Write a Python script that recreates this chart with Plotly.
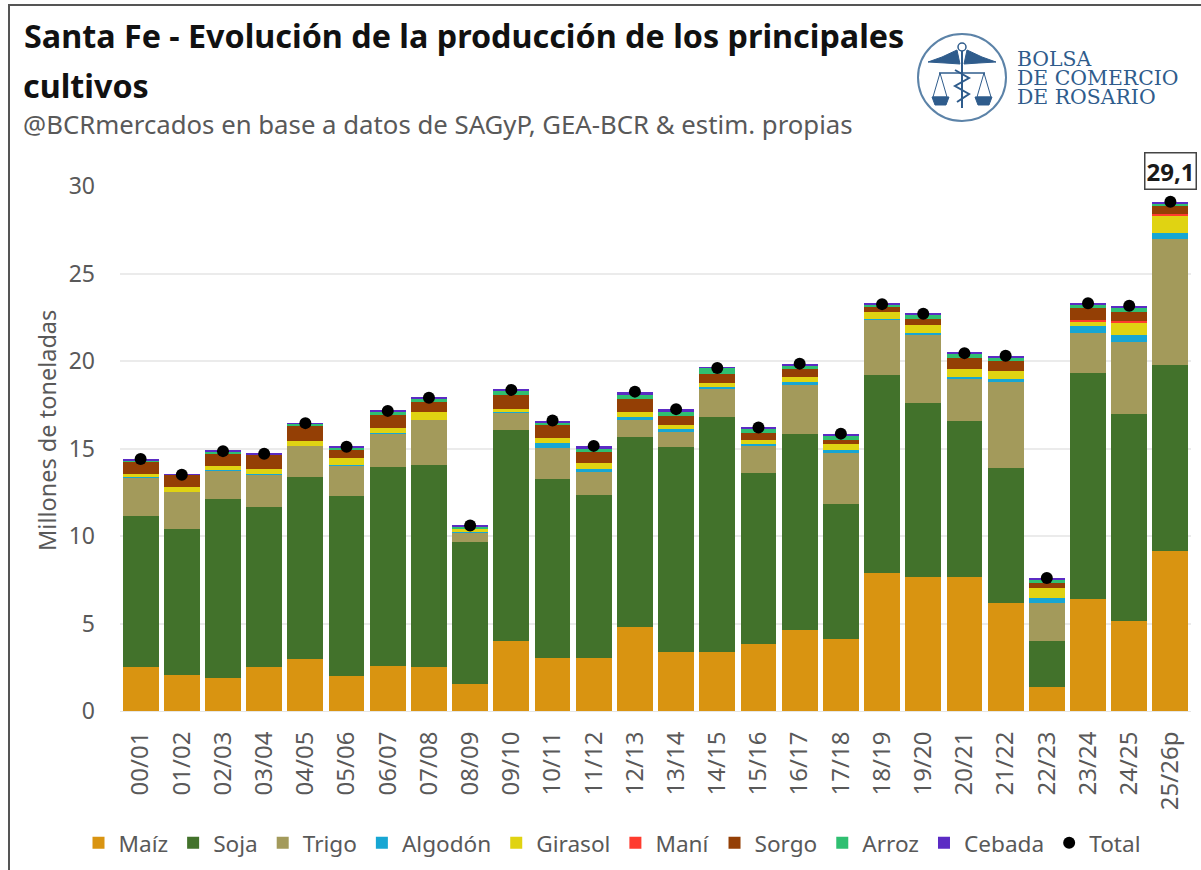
import plotly.graph_objects as go

campanas = ["00/01","01/02","02/03","03/04","04/05","05/06","06/07","07/08","08/09","09/10","10/11","11/12","12/13","13/14","14/15","15/16","16/17","17/18","18/19","19/20","20/21","21/22","22/23","23/24","24/25","25/26p"]
maiz = [2.5,2.05,1.9,2.5,3.0,2.0,2.6,2.5,1.55,4.0,3.05,3.05,4.8,3.4,3.35,3.85,4.65,4.1,7.9,7.65,7.65,6.2,1.35,6.4,5.15,9.15]
soja = [8.65,8.35,10.2,9.15,10.4,10.3,11.35,11.55,8.1,12.05,10.2,9.3,10.85,11.7,13.45,9.75,11.2,7.75,11.3,9.95,8.95,7.7,2.65,12.9,11.8,10.6]
trigo = [2.2,2.13,1.67,1.84,1.76,1.74,1.88,2.58,0.54,0.96,1.8,1.33,0.98,0.86,1.58,1.56,2.78,2.87,3.18,3.89,2.35,4.92,2.15,2.28,4.12,7.2]
algodon = [0.02,0.0,0.01,0.05,0.01,0.02,0.07,0.02,0.03,0.13,0.25,0.13,0.15,0.14,0.12,0.11,0.18,0.18,0.02,0.13,0.12,0.13,0.29,0.42,0.4,0.34]
girasol = [0.2,0.25,0.22,0.27,0.26,0.38,0.3,0.45,0.18,0.1,0.28,0.34,0.32,0.24,0.24,0.23,0.29,0.38,0.42,0.44,0.45,0.48,0.61,0.25,0.72,1.05]
mani = [0,0,0,0,0,0,0,0,0,0,0,0,0,0,0,0,0,0,0,0,0,0,0,0.08,0.09,0.08]
sorgo = [0.68,0.71,0.72,0.82,0.91,0.51,0.7,0.58,0.05,0.82,0.76,0.67,0.71,0.52,0.53,0.36,0.42,0.22,0.25,0.34,0.63,0.57,0.28,0.68,0.54,0.48]
arroz = [0.08,0.01,0.1,0.04,0.06,0.1,0.2,0.17,0.1,0.24,0.13,0.18,0.24,0.24,0.33,0.27,0.21,0.2,0.15,0.23,0.29,0.21,0.17,0.19,0.23,0.1]
cebada = [0.07,0.02,0.08,0.03,0.05,0.05,0.05,0.05,0.1,0.1,0.08,0.15,0.2,0.14,0.05,0.07,0.12,0.15,0.08,0.09,0.09,0.09,0.1,0.1,0.11,0.1]
total = [14.4,13.5,14.85,14.7,16.45,15.1,17.15,17.9,10.6,18.35,16.6,15.15,18.25,17.25,19.6,16.2,19.85,15.85,23.25,22.7,20.45,20.3,7.6,23.3,23.16,29.1]

series = [("Maíz",maiz,"#D99411"),("Soja",soja,"#42722B"),("Trigo",trigo,"#A39A5B"),("Algodón",algodon,"#17A6D3"),
          ("Girasol",girasol,"#E0D312"),("Maní",mani,"#FF3B2F"),("Sorgo",sorgo,"#943F05"),("Arroz",arroz,"#2FBF71"),("Cebada",cebada,"#5B2BC4")]

FONT = "Noto Sans"
TXT = "#595959"
L, R, T, B = 120, 1191, 186, 711
def px(x): return (x - L) / (R - L)
def py(y): return (B - y) / (B - T)

fig = go.Figure()
for name, vals, col in series:
    fig.add_bar(name=name, x=campanas, y=vals, marker=dict(color=col, line=dict(width=0)))
fig.add_scatter(name="Total", x=campanas, y=total, mode="markers", cliponaxis=False,
                marker=dict(color="black", size=12))

LOGO = "#2F5C8C"
shapes = [
    dict(type="line", xref="paper", yref="paper", x0=px(9), x1=px(9), y0=py(5), y1=py(870), line=dict(color="#555555", width=2)),
    dict(type="line", xref="paper", yref="paper", x0=px(8), x1=px(1201), y0=py(5), y1=py(5), line=dict(color="#555555", width=2)),
    dict(type="circle", xref="paper", yref="paper", x0=px(918), x1=px(1006), y0=py(121), y1=py(34), line=dict(color="#5C83A8", width=2)),
    dict(type="circle", xref="paper", yref="paper", x0=px(958), x1=px(966), y0=py(51), y1=py(43), line=dict(color=LOGO, width=1.5)),
]
def path(d_pts, fill=True, width=1):
    d = "M" + " L".join(f"{px(a):.5f},{py(b):.5f}" for a, b in d_pts) + (" Z" if fill else "")
    return dict(type="path", xref="paper", yref="paper", path=d,
                fillcolor=LOGO if fill else None, line=dict(color=LOGO, width=width))
# wings, staff and scales of the emblem
shapes += [
    path([(928,62),(942,57),(957,50),(960,64),(945,63)]),
    path([(996,62),(982,57),(967,50),(964,64),(979,63)]),
    path([(962,51),(962,108)], fill=False, width=2),
    path([(939,73),(985,73)], fill=False, width=1.5),
    path([(940,73),(933,97),(947,97)], fill=False),
    path([(940,73),(947,97)], fill=False),
    path([(984,73),(977,97),(991,97)], fill=False),
    path([(984,73),(991,97)], fill=False),
    path([(932,97),(949,97),(946,105),(935,105)]),
    path([(975,97),(992,97),(989,105),(978,105)]),
    path([(955,70),(969,78),(955,86),(969,94),(957,102)], fill=False, width=2),
]

LOGO_FONT = dict(family="DejaVu Serif", size=20.4, color=LOGO)
ann = [
    dict(text="<b>cultivos</b>", x=px(21), y=py(85), xanchor="left", yanchor="middle", font=dict(family=FONT, size=32.3, color="#111111")),
    dict(text="@BCRmercados en base a datos de SAGyP, GEA-BCR & estim. propias", x=px(21), y=py(124), xanchor="left", yanchor="middle",
         font=dict(family=FONT, size=25.75, color="#595959")),
    dict(text="BOLSA", x=px(1015), y=py(59), xanchor="left", yanchor="middle", font=LOGO_FONT),
    dict(text="DE COMERCIO", x=px(1015), y=py(78), xanchor="left", yanchor="middle", font=LOGO_FONT),
    dict(text="DE ROSARIO", x=px(1015), y=py(97), xanchor="left", yanchor="middle", font=LOGO_FONT),
    dict(text="Millones de toneladas", x=px(47), y=py(431), xanchor="center", yanchor="middle", textangle=-90,
         font=dict(family=FONT, size=23.5, color=TXT)),
    dict(text="<b>29,1</b>", x=campanas[-1], y=total[-1], xref="x", yref="y", xanchor="center", yanchor="bottom", yshift=12, showarrow=False,
         font=dict(family=FONT, size=24, color="#1a1a1a"), bordercolor="#444444", borderwidth=1.5, borderpad=1, bgcolor="white"),
]
for a in ann:
    a.setdefault("xref", "paper"); a.setdefault("yref", "paper"); a.setdefault("showarrow", False)

fig.update_layout(
    width=1201, height=870, autosize=False,
    margin=dict(l=L, r=1201 - R, t=T, b=870 - B, pad=0, autoexpand=False),
    paper_bgcolor="white", plot_bgcolor="white",
    barmode="stack", bargap=0.13,
    title=dict(text="<b>Santa Fe - Evolución de la producción de los principales</b>", x=24/1201, xanchor="left",
               y=1 - 37/870, yanchor="middle", font=dict(family=FONT, size=32.3, color="#111111")),
    font=dict(family=FONT, color=TXT),
    shapes=shapes, annotations=ann,
    legend=dict(orientation="h", x=px(612), xref="paper", xanchor="center", y=py(843), yanchor="middle", traceorder="normal",
                font=dict(family=FONT, size=22.6, color=TXT), itemwidth=30, bgcolor="rgba(0,0,0,0)"),
    xaxis=dict(type="category", categoryorder="array", categoryarray=campanas, range=[-0.5, 25.5], tickangle=-90, automargin=False,
               tickfont=dict(family=FONT, size=24, color=TXT), showgrid=False, ticks="", showline=True, linecolor="#E6E6E6", linewidth=1, ticklabelstandoff=10),
    yaxis=dict(range=[0, 30], tickvals=[0,5,10,15,20,25,30], automargin=False, tickfont=dict(family=FONT, size=23, color=TXT), showgrid=True, gridcolor="#EBEBEB", gridwidth=1.5,
               zeroline=False, ticks="", ticklabelstandoff=24),
)
fig.write_html("out.html", config=dict(displayModeBar=False), post_script="document.body.style.margin='0';document.body.style.overflow='hidden';")
